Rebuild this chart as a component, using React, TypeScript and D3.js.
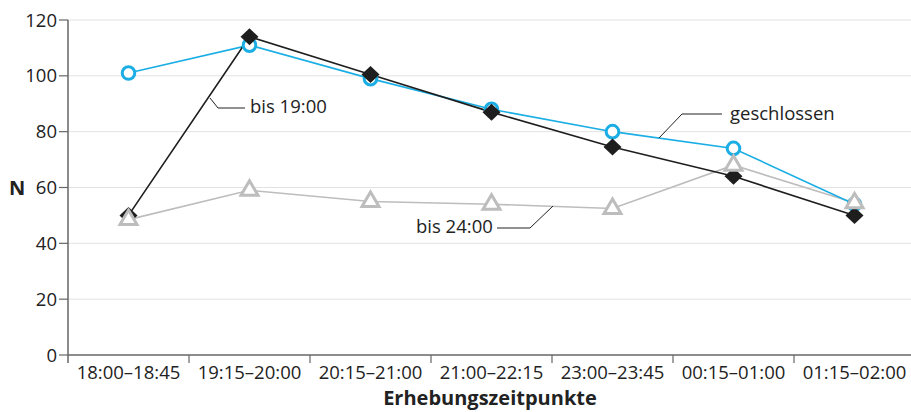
import React, { useEffect, useRef } from 'react';
import * as d3 from 'd3';

const categories = ['18:00–18:45', '19:15–20:00', '20:15–21:00', '21:00–22:15', '23:00–23:45', '00:15–01:00', '01:15–02:00'];
const geschlossen = [101, 111, 99, 88, 80, 74, 54];
const bis1900 = [50, 114, 100.5, 87, 74.5, 64, 50];
const bis2400 = [48.5, 59, 55, 54, 52.5, 68, 54.5];
const yTicks = [0, 20, 40, 60, 80, 100, 120];

const App = () => {
    const svgRef = useRef<SVGSVGElement>(null);

    useEffect(() => {
        document.body.style.margin = '0';
        const svg = d3.select(svgRef.current);
        svg.selectAll('*').remove();
        const width = 911;
        const height = 412;
        const margin = { top: 20, right: -4, bottom: 57, left: 68 };
        const font = '"Open Sans", sans-serif';

        const x = d3.scaleBand().domain(categories).range([margin.left, width - margin.right]).padding(0);
        const y = d3.scaleLinear().domain([0, 120]).range([height - margin.bottom, margin.top]);
        const cx = (i: number) => (x(categories[i]) as number) + x.bandwidth() / 2;
        const y0 = y(0);

        // gridlines
        svg.append('g')
            .selectAll('line')
            .data(yTicks.filter((d) => d > 0))
            .enter()
            .append('line')
            .attr('x1', margin.left)
            .attr('x2', width)
            .attr('y1', (d) => y(d))
            .attr('y2', (d) => y(d))
            .attr('stroke', '#e2e2e2')
            .attr('stroke-width', 1);

        const axisColor = '#666';
        // y axis
        svg.append('line')
            .attr('x1', margin.left).attr('x2', margin.left)
            .attr('y1', y(120)).attr('y2', y0 + 8)
            .attr('stroke', axisColor).attr('stroke-width', 1.5);
        svg.append('g')
            .selectAll('line')
            .data(yTicks)
            .enter()
            .append('line')
            .attr('x1', margin.left - 9).attr('x2', margin.left)
            .attr('y1', (d) => y(d)).attr('y2', (d) => y(d))
            .attr('stroke', axisColor).attr('stroke-width', 1.2);
        svg.append('g')
            .selectAll('text')
            .data(yTicks)
            .enter()
            .append('text')
            .attr('x', margin.left - 11)
            .attr('y', (d) => y(d))
            .attr('dy', '0.36em')
            .attr('text-anchor', 'end')
            .style('font-family', font)
            .style('font-size', '18.5px')
            .attr('fill', '#222')
            .text((d) => d);

        // x axis
        svg.append('line')
            .attr('x1', margin.left).attr('x2', width)
            .attr('y1', y0).attr('y2', y0)
            .attr('stroke', axisColor).attr('stroke-width', 1.5);
        svg.append('g')
            .selectAll('line')
            .data(categories.slice(1))
            .enter()
            .append('line')
            .attr('x1', (d) => x(d) as number).attr('x2', (d) => x(d) as number)
            .attr('y1', y0).attr('y2', y0 + 8)
            .attr('stroke', axisColor).attr('stroke-width', 1.2);
        svg.append('g')
            .selectAll('text')
            .data(categories)
            .enter()
            .append('text')
            .attr('x', (d, i) => cx(i))
            .attr('y', y0 + 24)
            .attr('text-anchor', 'middle')
            .style('font-family', font)
            .style('font-size', '18.5px')
            .attr('fill', '#222')
            .text((d) => d);

        // axis titles
        svg.append('text')
            .attr('x', 490).attr('y', 405)
            .attr('text-anchor', 'middle')
            .style('font-family', font).style('font-size', '20px').style('font-weight', 'bold')
            .attr('fill', '#222')
            .text('Erhebungszeitpunkte');
        svg.append('text')
            .attr('x', 9).attr('y', y(60))
            .attr('dy', '0.36em')
            .style('font-family', font).style('font-size', '20px').style('font-weight', 'bold')
            .attr('fill', '#222')
            .text('N');

        const line = d3.line<number>().x((d, i) => cx(i)).y((d) => y(d));
        const cyan = '#1aaee5';
        const gray = '#bdbdbd';
        const black = '#1e1e1e';

        svg.append('path').datum(bis2400).attr('d', line).attr('fill', 'none').attr('stroke', gray).attr('stroke-width', 1.6);
        svg.append('path').datum(geschlossen).attr('d', line).attr('fill', 'none').attr('stroke', cyan).attr('stroke-width', 1.6);
        svg.append('path').datum(bis1900).attr('d', line).attr('fill', 'none').attr('stroke', black).attr('stroke-width', 1.6);

        // markers
        svg.append('g')
            .selectAll('circle')
            .data(geschlossen)
            .enter()
            .append('circle')
            .attr('cx', (d, i) => cx(i))
            .attr('cy', (d) => y(d))
            .attr('r', 6.3)
            .attr('fill', '#fff')
            .attr('stroke', cyan)
            .attr('stroke-width', 3);

        svg.append('g')
            .selectAll('path')
            .data(bis1900)
            .enter()
            .append('path')
            .attr('transform', (d, i) => `translate(${cx(i)},${y(d)})`)
            .attr('d', 'M0,-8.5L9,0L0,8.5L-9,0Z')
            .attr('fill', black);

        svg.append('g')
            .selectAll('path')
            .data(bis2400)
            .enter()
            .append('path')
            .attr('transform', (d, i) => `translate(${cx(i)},${y(d)})`)
            .attr('d', 'M0,-9.5L8.5,5L-8.5,5Z')
            .attr('fill', '#fff')
            .attr('stroke', gray)
            .attr('stroke-width', 3)
            .attr('stroke-linejoin', 'miter');

        // annotations
        const labels = [
            { text: 'bis 19:00', tx: 250, ty: 113, pts: [[210, 98], [218, 108], [245, 108]] },
            { text: 'bis 24:00', tx: 416, ty: 233, pts: [[553, 206], [530, 228], [497, 228]] },
            { text: 'geschlossen', tx: 730, ty: 120, pts: [[659, 138], [682, 114], [722, 114]] },
        ];
        labels.forEach((l) => {
            svg.append('path')
                .attr('d', d3.line()(l.pts as [number, number][]))
                .attr('fill', 'none')
                .attr('stroke', '#222')
                .attr('stroke-width', 1);
            svg.append('text')
                .attr('x', l.tx).attr('y', l.ty)
                .style('font-family', font).style('font-size', '18.5px')
                .attr('fill', '#222')
                .text(l.text);
        });
    }, []);

    return <svg ref={svgRef} width={911} height={412} style={{ display: 'block' }} />;
};

export default App;
